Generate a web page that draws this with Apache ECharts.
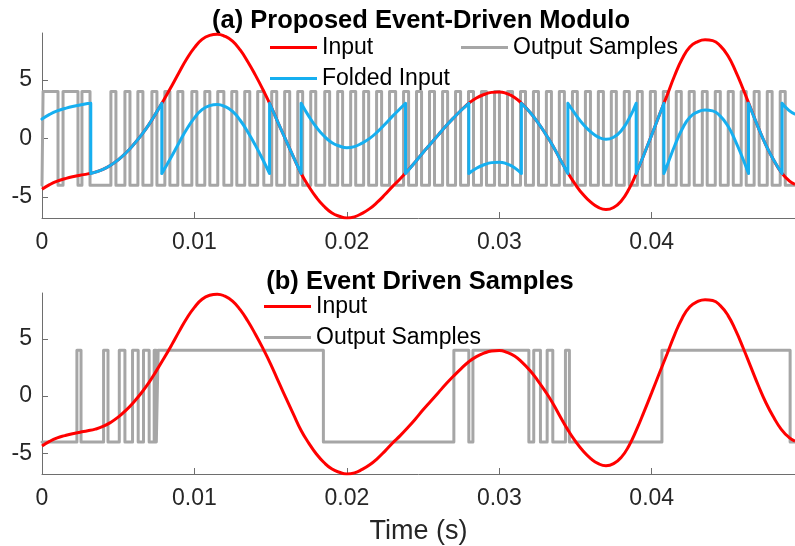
<!DOCTYPE html>
<html>
<head>
<meta charset="utf-8">
<title>Event-Driven Modulo</title>
<script src="https://cdn.jsdelivr.net/npm/echarts@6/dist/echarts.min.js"></script>
<style>
  html, body { margin: 0; padding: 0; background: #fff; }
  #chart { width: 795px; height: 546px; }
</style>
</head>
<body>
<div id="chart"></div>
<script>
// times are in ms, values in volts
const inputMs = [0, 0.5, 1, 1.5, 2, 2.5, 3, 3.5, 4, 4.5, 5, 5.5, 6, 6.5, 7, 7.5, 8, 8.5, 9, 9.5,
  10, 10.5, 11, 11.5, 12, 12.5, 13, 13.5, 14, 14.5, 15, 15.5, 16, 16.5, 17, 17.5, 18, 18.5, 19, 19.5,
  20, 20.5, 21, 21.5, 22, 22.5, 23, 23.5, 24, 24.5, 25, 25.5, 26, 26.5, 27, 27.5, 28, 28.5, 29, 29.5,
  30, 30.5, 31, 31.5, 32, 32.5, 33, 33.5, 34, 34.5, 35, 35.5, 36, 36.5, 37, 37.5, 38, 38.5, 39, 39.5,
  40, 40.5, 41, 41.5, 42, 42.5, 43, 43.5, 44, 44.5, 45, 45.5, 46, 46.5, 47, 47.5, 48, 48.5, 49, 49.4]
const inputV = [-4.35, -3.95, -3.65, -3.45, -3.28, -3.15, -3.03, -2.88, -2.65, -2.3, -1.83, -1.25, -0.55, 0.25, 1.15, 2.2, 3.3, 4.45, 5.65, 6.8,
  7.75, 8.45, 8.8, 8.9, 8.72, 8.3, 7.55, 6.55, 5.4, 4.15, 2.8, 1.3, -0.15, -1.6, -3.0, -4.1, -5.05, -5.8, -6.35, -6.65,
  -6.8, -6.7, -6.4, -6.0, -5.45, -4.8, -4.1, -3.45, -2.75, -2.0, -1.2, -0.45, 0.3, 1.05, 1.75, 2.4, 3.0, 3.45, 3.75, 3.93,
  3.97, 3.82, 3.5, 2.95, 2.25, 1.4, 0.45, -0.6, -1.8, -2.95, -3.95, -4.8, -5.45, -5.9, -6.08, -5.9, -5.35, -4.35, -2.95, -1.35,
  0.3, 2.0, 3.65, 5.35, 6.8, 7.8, 8.25, 8.42, 8.35, 7.9, 7.05, 5.75, 4.2, 2.55, 0.9, -0.6, -1.85, -2.9, -3.6, -3.92]

// folded input, a repeated time marks a wrap (vertical jump)
const foldMs = [0, 0.5, 1, 1.5, 2, 2.5, 3, 3.2,
  3.2, 3.5, 4, 4.5, 5, 5.5, 6, 6.5, 7, 7.5, 7.86,
  7.86, 8.5, 9, 9.5, 10, 10.5, 11, 11.5, 12, 12.5, 13, 13.5, 14, 14.5, 14.93,
  14.93, 15.5, 16, 16.5, 17,
  17, 17.5, 18, 18.5, 19, 19.5, 20, 20.5, 21, 21.5, 22, 22.5, 23, 23.5, 23.85,
  23.85, 24.5, 25, 25.5, 26, 26.5, 27, 27.5, 28,
  28, 28.5, 29, 29.5, 30, 30.5, 31, 31.45,
  31.45, 32, 32.5, 33, 33.5, 34, 34.5,
  34.5, 35, 35.5, 36, 36.5, 37, 37.5, 38, 38.5, 38.98,
  38.98, 39.5, 40, 40.5, 40.8,
  40.8, 41, 41.5, 42, 42.5, 43, 43.5, 44, 44.5, 45, 45.5, 46, 46.35,
  46.35, 47, 47.5, 48, 48.55,
  48.55, 49, 49.4]
const foldV = [1.65, 2.05, 2.35, 2.55, 2.72, 2.85, 2.97, 3.0,
  -3.0, -2.88, -2.65, -2.3, -1.83, -1.25, -0.55, 0.25, 1.15, 2.2, 3.0,
  -3.0, -1.55, -0.35, 0.8, 1.75, 2.45, 2.8, 2.9, 2.72, 2.3, 1.55, 0.55, -0.6, -1.85, -3.0,
  3.0, 1.3, -0.15, -1.6, -3.0,
  3.0, 1.9, 0.95, 0.2, -0.35, -0.65, -0.8, -0.7, -0.4, 0.0, 0.55, 1.2, 1.9, 2.55, 3.0,
  -3.0, -2.0, -1.2, -0.45, 0.3, 1.05, 1.75, 2.4, 3.0,
  -3.0, -2.55, -2.25, -2.07, -2.03, -2.18, -2.5, -3.0,
  3.0, 2.25, 1.4, 0.45, -0.6, -1.8, -3.0,
  3.0, 2.05, 1.2, 0.55, 0.1, -0.08, 0.1, 0.65, 1.65, 3.0,
  -3.0, -1.35, 0.3, 2.0, 3.0,
  -3.0, -2.35, -0.65, 0.8, 1.8, 2.25, 2.42, 2.35, 1.9, 1.05, -0.25, -1.8, -3.0,
  3.0, 0.9, -0.6, -1.85, -3.0,
  3.0, 2.4, 2.08]

// output samples: switching instants (ms), level starts low
const topToggleMs = [0.07, 1.05, 1.38, 2.36, 2.62, 3.15, 4.52, 4.85, 5.44, 5.77, 6.29, 6.62, 7.21, 7.54, 8.06, 8.39,
  8.91, 9.24, 9.83, 10.16, 10.68, 11.01, 11.53, 11.93, 12.45, 12.78, 13.3, 13.63, 14.15, 14.55, 15.07, 15.4,
  15.92, 16.25, 16.78, 17.1, 17.63, 17.96, 18.55, 18.87, 19.4, 19.72, 20.25, 20.58, 21.1, 21.43, 21.95, 22.28,
  22.8, 23.2, 23.72, 24.05, 24.57, 24.9, 25.42, 25.75, 26.28, 26.61, 27.13, 27.46, 27.98, 28.31, 28.83, 29.16,
  29.69, 30.01, 30.54, 30.87, 31.39, 31.72, 32.24, 32.57, 33.09, 33.42, 33.94, 34.27, 34.8, 35.12, 35.65, 35.98,
  36.5, 36.83, 37.35, 37.68, 38.2, 38.53, 39.06, 39.38, 39.91, 40.24, 40.76, 41.09, 41.61, 41.94, 42.46, 42.79,
  43.32, 43.64, 44.17, 44.5, 45.02, 45.35, 45.87, 46.2, 46.72, 47.05, 47.58, 47.9, 48.43, 48.76]
const bottomToggleMs = [2.29, 2.56, 4.04, 4.33, 5.07, 5.44, 5.94, 6.31, 6.66, 7.03, 7.36, 7.5, 7.62, 18.46,
  27.02, 28.0, 28.27, 31.94, 32.26, 32.7, 33.14, 33.51, 34.34, 34.6, 40.67, 49.08]
const outLevel = 4
const endMs = 49.4

const xTicks = [0, 0.01, 0.02, 0.03, 0.04]
const yTicks = [-5, 0, 5]

const RED = '#ff0000'
const BLUE = '#16aff0'
const GRAY = '#a6a6a6'
const FONT = '"Liberation Sans", Arial, Helvetica, sans-serif'

function inputData() {
  return inputMs.map((t, i) => [t / 1000, inputV[i]])
}

// smooth each piece separately, draw wraps as straight vertical strokes
function foldedData() {
  const out = []
  for (let i = 0; i < foldMs.length; i++) {
    const t = foldMs[i] / 1000
    out.push([t, foldV[i]])
    if (i + 1 < foldMs.length && foldMs[i + 1] === foldMs[i]) {
      out.push([t, '-'])
      out.push([t, foldV[i]])
      out.push([t, foldV[i + 1]])
      out.push([t, '-'])
    }
  }
  return out
}

function stepData(toggles) {
  let level = -outLevel
  const out = [[0, level]]
  toggles.forEach(ms => {
    out.push([ms / 1000, level])
    level = -level
    out.push([ms / 1000, level])
  })
  out.push([endMs / 1000, level])
  return out
}

function xAxis(idx, extra) {
  return Object.assign({
    type: 'value',
    gridIndex: idx,
    min: 0,
    max: endMs / 1000,
    axisLine: { show: true, onZero: false, lineStyle: { color: '#6e6e6e', width: 1 } },
    axisTick: { show: true, inside: true, length: 6, customValues: xTicks, lineStyle: { color: '#6e6e6e' } },
    axisLabel: {
      customValues: xTicks,
      fontSize: 23,
      fontFamily: FONT,
      color: '#262626',
      margin: 13,
      formatter: v => (v === 0 ? '0' : v.toFixed(2))
    },
    splitLine: { show: false }
  }, extra || {})
}

function yAxis(idx) {
  return {
    type: 'value',
    gridIndex: idx,
    min: -6.8,
    max: 9,
    axisLine: { show: true, onZero: false, lineStyle: { color: '#6e6e6e', width: 1 } },
    axisTick: { show: true, inside: true, length: 6, customValues: yTicks, lineStyle: { color: '#6e6e6e' } },
    axisLabel: { customValues: yTicks, fontSize: 23, fontFamily: FONT, color: '#262626', margin: 10 },
    splitLine: { show: false }
  }
}

const legendBase = {
  orient: 'vertical',
  icon: 'rect',
  itemWidth: 47,
  itemHeight: 3,
  itemGap: 8,
  padding: 0,
  selectedMode: false,
  textStyle: { fontSize: 23, lineHeight: 23, fontFamily: FONT, color: '#000' }
}

const chart = echarts.init(document.getElementById('chart'))
chart.setOption({
  animation: false,
  backgroundColor: '#fff',
  grid: [
    { left: 42, right: 0, top: 33, height: 185 },
    { left: 42, right: 0, top: 293, height: 188 }
  ],
  xAxis: [
    xAxis(0),
    xAxis(1, {
      name: 'Time (s)',
      nameLocation: 'middle',
      nameGap: 44,
      nameTextStyle: { fontSize: 27, fontFamily: FONT, color: '#262626' }
    })
  ],
  yAxis: [yAxis(0), yAxis(1)],
  legend: [
    Object.assign({}, legendBase, { data: ['Input', 'Folded Input'], left: 270, top: 36 }),
    Object.assign({}, legendBase, { data: ['Output Samples'], left: 461, top: 36 }),
    Object.assign({}, legendBase, { data: ['Input', 'Output Samples'], left: 264, top: 295 })
  ],
  graphic: [
    {
      type: 'text', x: 421, y: 21,
      style: { text: '(a) Proposed Event-Driven Modulo', fontSize: 25.5, fontWeight: 'bold', fontFamily: FONT, fill: '#000', align: 'center', verticalAlign: 'middle' }
    },
    {
      type: 'text', x: 420, y: 282,
      style: { text: '(b) Event Driven Samples', fontSize: 25.5, fontWeight: 'bold', fontFamily: FONT, fill: '#000', align: 'center', verticalAlign: 'middle' }
    }
  ],
  series: [
    {
      name: 'Output Samples', type: 'line', xAxisIndex: 0, yAxisIndex: 0, z: 1,
      data: stepData(topToggleMs), showSymbol: false, color: GRAY,
      lineStyle: { width: 3, color: GRAY, join: 'round', cap: 'round' }
    },
    {
      name: 'Input', type: 'line', xAxisIndex: 0, yAxisIndex: 0, z: 2,
      data: inputData(), smooth: 0.5, showSymbol: false, color: RED,
      lineStyle: { width: 3, color: RED }
    },
    {
      name: 'Folded Input', type: 'line', xAxisIndex: 0, yAxisIndex: 0, z: 3,
      data: foldedData(), smooth: 0.5, showSymbol: false, color: BLUE,
      lineStyle: { width: 3, color: BLUE, join: 'round', cap: 'round' }
    },
    {
      name: 'Output Samples', type: 'line', xAxisIndex: 1, yAxisIndex: 1, z: 1,
      data: stepData(bottomToggleMs), showSymbol: false, color: GRAY,
      lineStyle: { width: 3, color: GRAY, join: 'round', cap: 'round' }
    },
    {
      name: 'Input', type: 'line', xAxisIndex: 1, yAxisIndex: 1, z: 2,
      data: inputData(), smooth: 0.5, showSymbol: false, color: RED,
      lineStyle: { width: 3, color: RED }
    }
  ]
})
</script>
</body>
</html>
